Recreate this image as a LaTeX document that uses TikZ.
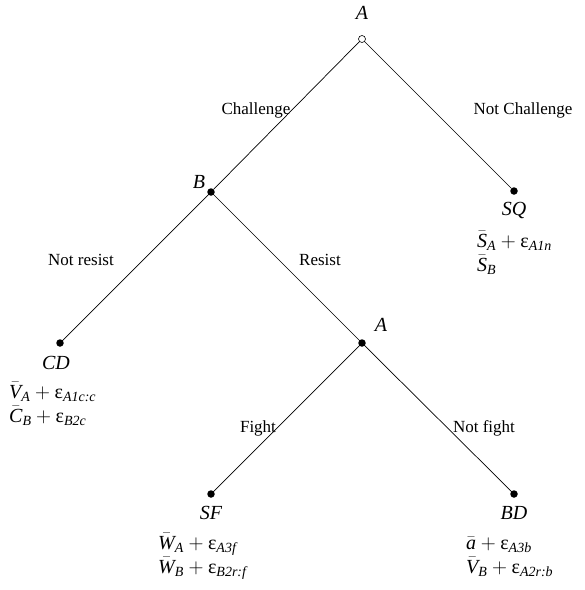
\documentclass[tikz,border=0pt]{standalone}
\usepackage{amsmath}
\usepackage{fontspec}
\setmainfont{Liberation Serif}
\newcommand\ti[1]{\text{\itshape #1}}
\newcommand\eps{\text{ε}}
\begin{document}
\begin{tikzpicture}[x=1pt,y=-1pt,
  every node/.style={font=\fontsize{17}{23}\selectfont},
  dot/.style={circle,fill=black,inner sep=0pt,minimum size=7.5pt},
  odot/.style={circle,draw=black,fill=white,inner sep=0pt,minimum size=7pt,line width=0.6pt},
  lbl/.style={font=\fontsize{20}{24}\selectfont\itshape,inner sep=1pt},
  pay/.style={anchor=base west,inner sep=0pt,font=\fontsize{20}{24}\selectfont},
  edge/.style={line width=0.7pt}]
\useasboundingbox (0,0) rectangle (585,590);
\node[dot] (B) at (211,192) {};
\node[dot] (SQ) at (514,191) {};
\node[dot] (CD) at (60,343) {};
\node[dot] (A2) at (362,343) {};
\node[dot] (SF) at (211,494) {};
\node[dot] (BD) at (514,494) {};
\node[odot] (A1) at (362,39) {};
\draw[edge] (A1) -- (B);
\draw[edge] (A1) -- (SQ);
\draw[edge] (B.center) -- (CD.center);
\draw[edge] (B.center) -- (A2.center);
\draw[edge] (A2.center) -- (SF.center);
\draw[edge] (A2.center) -- (BD.center);
% node labels
\node[lbl] (lA1) at (362,13) {A};
\node[lbl] (lB) at (199,182) {B};
\node[lbl] (lA2) at (381,325) {A};
\node[lbl] (lSQ) at (514,210) {SQ};
\node[lbl] (lCD) at (56,363) {CD};
\node[lbl] (lSF) at (211,513) {SF};
\node[lbl] (lBD) at (514,513) {BD};
% edge labels
\node (e1) at (256,110) {Challenge};
\node (e2) at (523,110) {Not Challenge};
\node (e3) at (81,260) {Not resist};
\node (e4) at (320,260) {Resist};
\node (e5) at (258,428) {Fight};
\node (e6) at (484,428) {Not fight};
% payoffs
\node[pay] (pSQ1) at (477,247) {$\bar{\ti{S}}_{\ti{A}}+\eps_{\ti{A1n}}$};
\node[pay] (pSQ2) at (477,271) {$\bar{\ti{S}}_{\ti{B}}$};
\node[pay] (pCD1) at (9,398) {$\bar{\ti{V}}_{\ti{A}}+\eps_{\ti{A1c:c}}$};
\node[pay] (pCD2) at (9,422) {$\bar{\ti{C}}_{\ti{B}}+\eps_{\ti{B2c}}$};
\node[pay] (pSF1) at (158,549) {$\bar{\ti{W}}_{\ti{A}}+\eps_{\ti{A3f}}$};
\node[pay] (pSF2) at (158,573) {$\bar{\ti{W}}_{\ti{B}}+\eps_{\ti{B2r:f}}$};
\node[pay] (pBD1) at (466,549) {$\bar{\ti{a}}+\eps_{\ti{A3b}}$};
\node[pay] (pBD2) at (466,573) {$\bar{\ti{V}}_{\ti{B}}+\eps_{\ti{A2r:b}}$};
\end{tikzpicture}
\end{document}
